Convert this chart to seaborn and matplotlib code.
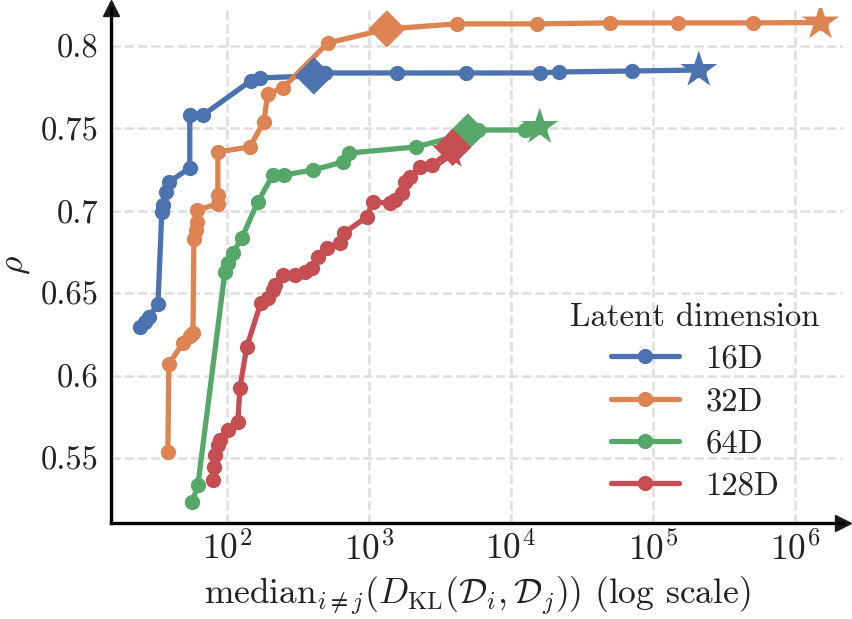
import numpy as np
import pandas as pd
import matplotlib
matplotlib.use('Agg')
import matplotlib.pyplot as plt
import seaborn as sns

# 数据: 每个潜在维度一条曲线 (x = median KL, y = rho)
dims = ['16D', '32D', '64D', '128D']

kl_16 = [24.4, 26.5, 28.2, 32.7, 34.8, 35.4, 37.1, 39.1, 54.8, 54.8, 67.8,
         147, 171, 410, 490, 1575, 4820, 16000, 21800, 71100, 211000]
rho_16 = [0.6294, 0.6325, 0.6355, 0.6434, 0.6992, 0.7035, 0.7114, 0.7174, 0.726, 0.758, 0.758,
          0.7788, 0.7806, 0.7818, 0.7836, 0.7836, 0.7836, 0.7836, 0.7842, 0.7848, 0.7854]

kl_32 = [38.4, 39.0, 49.0, 54.8, 57.7, 58.6, 60.5, 61.5, 61.5, 86.4, 86.4, 86.4,
         145, 182, 194, 248, 514, 1340, 4170, 15200, 49800, 150000, 506000, 1520000]
rho_32 = [0.5536, 0.607, 0.6197, 0.624, 0.6258, 0.6829, 0.6883, 0.6932, 0.7005, 0.7041, 0.7096, 0.7357,
          0.7387, 0.7539, 0.7709, 0.7745, 0.8018, 0.8103, 0.8134, 0.8134, 0.814, 0.814, 0.814, 0.8142]

kl_64 = [56.8, 62.5, 96.8, 101.6, 110, 127.5, 165, 211, 252, 404, 656, 723,
         2140, 3970, 4980, 5860, 12600, 16000]
rho_64 = [0.5232, 0.5335, 0.6628, 0.6683, 0.6744, 0.6835, 0.7053, 0.7217, 0.7217, 0.7247, 0.7296, 0.735,
          0.7387, 0.7448, 0.7478, 0.749, 0.749, 0.7508]

kl_128 = [79.6, 80.9, 82.2, 86.4, 89.3, 101.6, 119.5, 123.5, 138, 173, 194, 211, 218, 248, 301,
          354, 397, 438, 506, 625, 667, 968, 1067, 1406, 1524, 1706, 1794, 1945, 2287, 2780, 3750]
rho_128 = [0.5366, 0.5444, 0.5517, 0.5578, 0.5608, 0.5669, 0.5718, 0.5924, 0.6173, 0.644, 0.647, 0.6519,
           0.6549, 0.661, 0.661, 0.6628, 0.6653, 0.6719, 0.6774, 0.6804, 0.6865, 0.6962, 0.7053, 0.7047,
           0.7065, 0.7108, 0.7174, 0.7205, 0.7266, 0.7278, 0.7362]

# 菱形标记的点 (每条曲线一个)
diamond_kl = [410, 1340, 4980, 3900]
diamond_rho = [0.7818, 0.8103, 0.7478, 0.7385]

colors = sns.color_palette('deep', 4)

frames = []
for d, xs, ys in zip(dims, [kl_16, kl_32, kl_64, kl_128], [rho_16, rho_32, rho_64, rho_128]):
    frames.append(pd.DataFrame({'kl': xs, 'rho': ys, 'dim': d}))
df = pd.concat(frames, ignore_index=True)
df_star = df.groupby('dim', sort=False).tail(1)
df_diamond = pd.DataFrame({'kl': diamond_kl, 'rho': diamond_rho, 'dim': dims})

sns.set_theme(style='whitegrid')
plt.rcParams['font.family'] = 'serif'
plt.rcParams['font.serif'] = ['cmr10', 'DejaVu Serif']
plt.rcParams['mathtext.fontset'] = 'cm'
plt.rcParams['axes.formatter.use_mathtext'] = True
plt.rcParams['axes.unicode_minus'] = False

fs = 23.5
fs_x = 25.5
fig, ax = plt.subplots(figsize=(8.53, 6.19), dpi=100)
fig.subplots_adjust(left=0.130, right=0.988, bottom=0.155, top=0.987)

sns.lineplot(data=df, x='kl', y='rho', hue='dim', hue_order=dims, palette=colors,
             estimator=None, sort=False, marker='o', markersize=11, markeredgewidth=0,
             linewidth=3.8, ax=ax, zorder=2)
sns.scatterplot(data=df_diamond, x='kl', y='rho', hue='dim', hue_order=dims, palette=colors,
                marker='D', s=19 ** 2, linewidth=0, legend=False, ax=ax, zorder=3)
sns.scatterplot(data=df_star, x='kl', y='rho', hue='dim', hue_order=dims, palette=colors,
                marker='*', s=28 ** 2, linewidth=0, legend=False, ax=ax, zorder=3)

ax.set_xscale('log')
ax.set_xlim(15.24, 2.18e6)
ax.set_ylim(0.5105, 0.823)
ax.set_yticks([0.55, 0.6, 0.65, 0.7, 0.75, 0.8])
ax.set_yticklabels(['0.55', '0.6', '0.65', '0.7', '0.75', '0.8'])
ax.xaxis.set_minor_locator(matplotlib.ticker.NullLocator())

ax.grid(True, which='major', color='#dedede', linestyle='--', linewidth=1.8)
ax.tick_params(axis='both', length=0, pad=9, labelsize=fs, colors='#222222')
ax.tick_params(axis='x', labelsize=fs_x, pad=6)
sns.despine(ax=ax)
for s in ['left', 'bottom']:
    ax.spines[s].set_color('black')
    ax.spines[s].set_linewidth(2.4)

# 坐标轴箭头
ax.plot(1, 0, '>k', ms=12, transform=ax.transAxes, clip_on=False)
ax.plot(0, 1, '^k', ms=12, transform=ax.transAxes, clip_on=False)

ax.set_xlabel(r'median$_{i\neq j}(D_{\mathrm{KL}}(\mathcal{D}_i, \mathcal{D}_j))$ (log scale)',
              fontsize=fs_x, color='#222222', labelpad=6)
ax.set_ylabel(r'$\rho$', fontsize=fs_x, color='#222222', labelpad=6)

leg = ax.legend(title='Latent dimension', loc='lower right', frameon=False,
                handlelength=2.1, fontsize=fs, title_fontsize=fs, labelspacing=0.4,
                borderaxespad=0.3)
for t in leg.get_texts():
    t.set_color('#222222')
leg.get_title().set_color('#222222')

fig.savefig('out.png', dpi=100)
